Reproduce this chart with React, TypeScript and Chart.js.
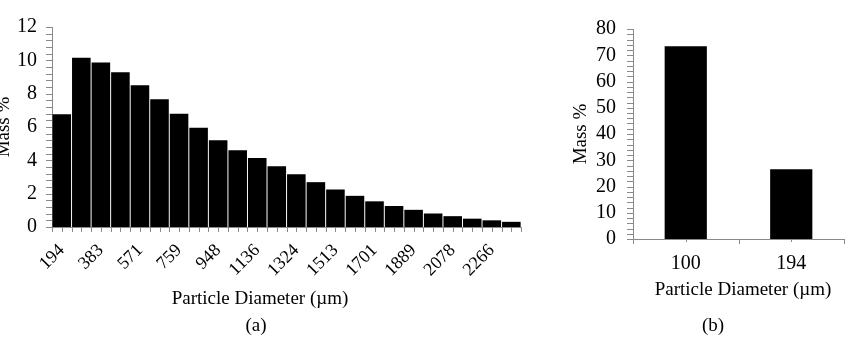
import React, { useEffect, useRef } from "react";
import { Chart, registerables } from "chart.js";

Chart.register(...registerables);

const diameterLabelsA = ["194", "288", "383", "477", "571", "665", "759", "854", "948", "1042", "1136", "1230", "1324", "1419", "1513", "1607", "1701", "1795", "1889", "1984", "2078", "2172", "2266", "2360"];
const massPercentA = [6.77, 10.16, 9.87, 9.28, 8.51, 7.67, 6.79, 5.95, 5.2, 4.61, 4.14, 3.65, 3.17, 2.69, 2.25, 1.87, 1.54, 1.26, 1.03, 0.81, 0.65, 0.5, 0.4, 0.31];
const yTicksA = [0, 2, 4, 6, 8, 10, 12];

const diameterLabelsB = ["100", "194"];
const massPercentB = [73.4, 26.6];
const yTicksB = [0, 10, 20, 30, 40, 50, 60, 70, 80];

const FONT = "'Liberation Serif', 'Times New Roman', serif";
const AXIS = "#8a8a8a";
const X_TITLE = "Particle Diameter (\u00b5m)";

const tickPlugin = {
  id: "customTicks",
  afterDraw(chart: any, _args: any, opts: any) {
    const { ctx, chartArea } = chart;
    const xs = chart.scales.x;
    const ys = chart.scales.y;
    ctx.save();
    ctx.strokeStyle = AXIS;
    ctx.lineWidth = 1;
    const steps = Math.round((ys.max - ys.min) / opts.yMinor);
    for (let i = 0; i <= steps; i++) {
      const v = ys.min + i * opts.yMinor;
      const py = Math.round(ys.getPixelForValue(v)) + 0.5;
      ctx.beginPath();
      ctx.moveTo(chartArea.left - opts.yLen, py);
      ctx.lineTo(chartArea.left, py);
      ctx.stroke();
    }
    const n = chart.data.labels.length;
    const half = (xs.getPixelForValue(1) - xs.getPixelForValue(0)) / 2 || (chartArea.right - chartArea.left) / 2;
    for (let i = 0; i < n; i++) {
      const c = xs.getPixelForValue(i);
      const pts = [[c - half, opts.bLen], [c, opts.cLen]];
      if (i === n - 1) pts.push([c + half, opts.bLen]);
      for (const [px, len] of pts) {
        const x = Math.round(px) + 0.5;
        ctx.beginPath();
        ctx.moveTo(x, chartArea.bottom);
        ctx.lineTo(x, chartArea.bottom + len);
        ctx.stroke();
      }
    }
    ctx.restore();
  },
};

function makeConfig(p: {
  labels: string[];
  data: number[];
  yTicks: number[];
  barPct: number;
  padding: any;
  yWidth: number;
  xHeight: number;
  yPad: number;
  xPad: number;
  xFont: number;
  rotate: boolean;
  everyOther: boolean;
  yTitlePad: number;
  yMinor: number;
  bLen: number;
  cLen: number;
}): any {
  return {
    type: "bar",
    data: {
      labels: p.labels,
      datasets: [
        {
          data: p.data,
          backgroundColor: "#000000",
          borderWidth: 0,
          barPercentage: p.barPct,
          categoryPercentage: 1,
        },
      ],
    },
    plugins: [tickPlugin],
    options: {
      responsive: false,
      animation: false,
      devicePixelRatio: 1,
      layout: { padding: p.padding, autoPadding: false },
      plugins: {
        legend: { display: false },
        tooltip: { enabled: false },
        customTicks: { yMinor: p.yMinor, yLen: 6, bLen: p.bLen, cLen: p.cLen },
      },
      scales: {
        x: {
          grid: { display: false, drawTicks: false },
          border: { display: true, color: AXIS, width: 1 },
          ticks: {
            autoSkip: false,
            color: "#000",
            font: { family: FONT, size: p.xFont },
            padding: p.xPad,
            minRotation: p.rotate ? 45 : 0,
            maxRotation: p.rotate ? 45 : 0,
            callback: function (this: any, _v: any, i: number) {
              if (p.everyOther && i % 2 !== 0) return "";
              return p.labels[i];
            },
          },
          title: { display: false },
          afterFit: (s: any) => {
            s.height = p.xHeight;
          },
        },
        y: {
          min: p.yTicks[0],
          max: p.yTicks[p.yTicks.length - 1],
          afterBuildTicks: (s: any) => {
            s.ticks = p.yTicks.map((v) => ({ value: v }));
          },
          grid: { display: false, drawTicks: false },
          border: { display: true, color: AXIS, width: 1 },
          ticks: {
            autoSkip: false,
            color: "#000",
            font: { family: FONT, size: 20 },
            padding: p.yPad,
          },
          title: {
            display: true,
            text: "Mass %",
            color: "#000",
            font: { family: FONT, size: 19 },
            padding: { top: p.yTitlePad, bottom: 0 },
          },
          afterFit: (s: any) => {
            s.width = p.yWidth;
          },
        },
      },
    },
  };
}

function BarPanel(props: { config: any; left: number; width: number; height: number }) {
  const ref = useRef<HTMLCanvasElement | null>(null);
  useEffect(() => {
    if (!ref.current) return;
    const chart = new Chart(ref.current, props.config);
    return () => chart.destroy();
  }, []);
  return (
    <canvas
      ref={ref}
      width={props.width}
      height={props.height}
      style={{ position: "absolute", left: props.left, top: 0, width: props.width, height: props.height }}
    />
  );
}

const textStyle: React.CSSProperties = {
  position: "absolute",
  textAlign: "center",
  fontFamily: FONT,
  fontSize: 19,
  color: "#000",
  lineHeight: "22px",
  whiteSpace: "nowrap",
};

export default function App() {
  const configA = makeConfig({
    labels: diameterLabelsA,
    data: massPercentA,
    yTicks: yTicksA,
    barPct: 0.95,
    padding: { left: 0, top: 8, right: 18, bottom: 0 },
    yWidth: 52,
    xHeight: 85,
    yPad: 15,
    xPad: 13,
    xFont: 18,
    rotate: true,
    everyOther: true,
    yTitlePad: -7,
    yMinor: 0.4,
    bLen: 5,
    cLen: 5,
  });
  const configB = makeConfig({
    labels: diameterLabelsB,
    data: massPercentB,
    yTicks: yTicksB,
    barPct: 0.4,
    padding: { left: 0, top: 17, right: 12, bottom: 0 },
    yWidth: 73,
    xHeight: 73,
    yPad: 17,
    xPad: 13,
    xFont: 20,
    rotate: false,
    everyOther: false,
    yTitlePad: 10,
    yMinor: 2,
    bLen: 5,
    cLen: 3,
  });
  return (
    <div style={{ position: "fixed", left: 0, top: 0, width: 856, height: 346, background: "#fff", overflow: "hidden" }}>
      <BarPanel config={configA} left={0} width={540} height={312} />
      <BarPanel config={configB} left={560} width={296} height={312} />
      <div style={{ ...textStyle, left: 110, width: 300, top: 287 }}>{X_TITLE}</div>
      <div style={{ ...textStyle, left: 593, width: 300, top: 278 }}>{X_TITLE}</div>
      <div style={{ ...textStyle, left: 226, width: 60, top: 314 }}>(a)</div>
      <div style={{ ...textStyle, left: 683, width: 60, top: 314 }}>(b)</div>
    </div>
  );
}
